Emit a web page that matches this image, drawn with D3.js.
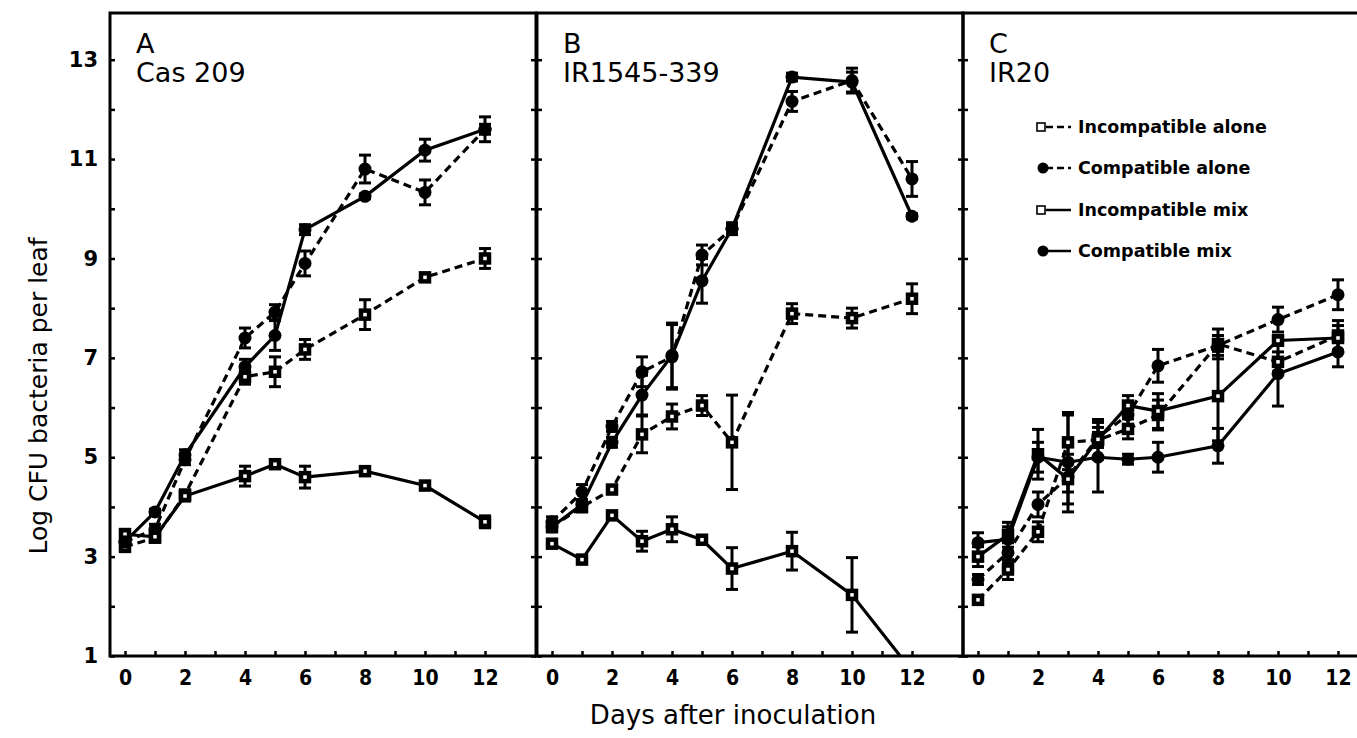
<!DOCTYPE html>
<html>
<head>
<meta charset="utf-8">
<script src="https://cdn.jsdelivr.net/npm/d3@7"></script>
<style>
  body { margin: 0; background: #fff; }
  svg { display: block; }
</style>
</head>
<body>
<div id="chart"></div>
<script>
// Bacterial growth in rice leaves (log CFU per leaf)
const days = [0, 1, 2, 3, 4, 5, 6, 8, 10, 12];
const xTickValues = [0, 1, 2, 3, 4, 5, 6, 7, 8, 9, 10, 11, 12];
const xTickLabels = [0, 2, 4, 6, 8, 10, 12];
const yTickValues = [1, 2, 3, 4, 5, 6, 7, 8, 9, 10, 11, 12, 13];
const yTickLabels = [1, 3, 5, 7, 9, 11, 13];
const seriesNames = ["Incompatible alone", "Compatible alone", "Incompatible mix", "Compatible mix"];
const panelLetters = ["A", "B", "C"];
const cultivars = ["Cas 209", "IR1545-339", "IR20"];

// Panel A - Cas 209 (no day 3 sample)
const casIncAlone     = [3.2, 3.38, 4.25, null, 6.62, 6.72, 7.17, 7.87, 8.62, 9.0];
const casIncAloneErr  = [0.1, 0, 0, null, 0.15, 0.3, 0.2, 0.3, 0, 0.2];
const casCompAlone    = [3.3, 3.55, 4.95, null, 7.4, 7.92, 8.9, 10.8, 10.33, 11.6];
const casCompAloneErr = [0.1, 0.1, 0.1, null, 0.2, 0.15, 0.25, 0.28, 0.25, 0.25];
const casIncMix       = [3.45, 3.4, 4.22, null, 4.62, 4.86, 4.6, 4.72, 4.43, 3.7];
const casIncMixErr    = [0.1, 0.1, 0.1, null, 0.2, 0.08, 0.22, 0.05, 0.05, 0.12];
const casCompMix      = [3.3, 3.9, 5.05, null, 6.82, 7.45, 9.58, 10.25, 11.18, 11.6];
const casCompMixErr   = [0.1, 0.05, 0.1, null, 0.15, 0.3, 0.1, 0.05, 0.22, 0.1];

// Panel B - IR1545-339
const irbIncAlone     = [3.6, 4.0, 4.35, 5.46, 5.82, 6.04, 5.3, 7.89, 7.8, 8.19];
const irbIncAloneErr  = [0.1, 0.1, 0.05, 0.37, 0.25, 0.2, 0.95, 0.2, 0.2, 0.3];
const irbCompAlone    = [3.7, 4.3, 5.62, 6.72, 7.02, 9.07, 9.6, 12.16, 12.58, 10.6];
const irbCompAloneErr = [0.1, 0.15, 0.1, 0.3, 0.65, 0.2, 0.12, 0.2, 0.25, 0.35];
const irbIncMix       = [3.26, 2.94, 3.83, 3.31, 3.55, 3.34, 2.76, 3.11, 2.23, 0.7];
const irbIncMixErr    = [0.05, 0.05, 0.05, 0.2, 0.25, 0.05, 0.42, 0.38, 0.75, 0];
const irbCompMix      = [3.6, 4.05, 5.3, 6.25, 7.05, 8.55, 9.6, 12.65, 12.55, 9.85];
const irbCompMixErr   = [0.1, 0.1, 0.1, 0.4, 0.65, 0.45, 0.1, 0.08, 0.2, 0.05];

// Panel C - IR20
const ir20IncAlone     = [2.13, 2.74, 3.5, 5.3, 5.35, 5.57, 5.85, 7.28, 6.92, 7.45];
const ir20IncAloneErr  = [0.05, 0.2, 0.2, 0.55, 0.15, 0.2, 0.3, 0.3, 0.2, 0.3];
const ir20CompAlone    = [2.54, 3.08, 4.05, 4.6, 5.4, 5.85, 6.84, 7.25, 7.77, 8.27];
const ir20CompAloneErr = [0.1, 0.2, 0.25, 0.3, 0.2, 0.2, 0.33, 0.2, 0.25, 0.3];
const ir20IncMix       = [3.0, 3.44, 5.06, 4.56, 5.36, 6.04, 5.93, 6.23, 7.35, 7.4];
const ir20IncMixErr    = [0.2, 0.25, 0.5, 0.5, 0.4, 0.2, 0.35, 0.9, 0.1, 0.25];
const ir20CompMix      = [3.28, 3.35, 5.0, 4.9, 5.0, 4.96, 5.0, 5.23, 6.68, 7.12];
const ir20CompMixErr   = [0.2, 0.25, 0.3, 1.0, 0.7, 0.1, 0.3, 0.35, 0.65, 0.3];

const panelMeans = [
  [casIncAlone, casCompAlone, casIncMix, casCompMix],
  [irbIncAlone, irbCompAlone, irbIncMix, irbCompMix],
  [ir20IncAlone, ir20CompAlone, ir20IncMix, ir20CompMix]
];
const panelErrs = [
  [casIncAloneErr, casCompAloneErr, casIncMixErr, casCompMixErr],
  [irbIncAloneErr, irbCompAloneErr, irbIncMixErr, irbCompMixErr],
  [ir20IncAloneErr, ir20CompAloneErr, ir20IncMixErr, ir20CompMixErr]
];

// styling per series: "alone" runs are dashed, incompatible strain is the square
const isDashed = [true, true, false, false];
const isSquare = [true, false, true, false];

const W = 1357, H = 738;
const TOP = 13, BOTTOM = 656;
const panelLeft = [110, 537, 963];
const panelW = 426;
const FONT = "'DejaVu Sans', Verdana, sans-serif";
const FONT_COND = "'DejaVu Sans Condensed', 'Liberation Sans Narrow', 'DejaVu Sans', sans-serif";

const svg = d3.select('#chart').append('svg')
  .attr('width', W)
  .attr('height', H)
  .attr('viewBox', [0, 0, W, H]);

const y = d3.scaleLinear().domain([1, 13.94]).range([BOTTOM, TOP]);

panelLetters.forEach((letter, p) => {
  const left = panelLeft[p];
  const x = d3.scaleLinear().domain([-0.5, 13.7]).range([left, left + panelW]);
  const g = svg.append('g');

  g.append('clipPath').attr('id', 'clip' + p)
    .append('rect')
    .attr('x', left).attr('y', TOP)
    .attr('width', panelW).attr('height', BOTTOM - TOP);

  // bottom ticks, pointing inward
  const xAxis = g.append('g')
    .attr('transform', `translate(0,${BOTTOM})`)
    .call(d3.axisBottom(x)
      .tickValues(xTickValues)
      .tickSize(-5)
      .tickPadding(14)
      .tickFormat(d => xTickLabels.includes(d) ? d : ''));
  xAxis.select('.domain').remove();
  xAxis.selectAll('line').attr('stroke-width', 2.5);
  xAxis.selectAll('text')
    .attr('font-family', FONT_COND)
    .attr('font-weight', 'bold')
    .attr('font-size', 21)
    .attr('fill', '#000');

  // left and right ticks, both inward
  const yLeft = g.append('g')
    .attr('transform', `translate(${left},0)`)
    .call(d3.axisLeft(y)
      .tickValues(yTickValues)
      .tickSize(-5)
      .tickPadding(12)
      .tickFormat(d => (p === 0 && yTickLabels.includes(d)) ? d : ''));
  yLeft.select('.domain').remove();
  yLeft.selectAll('line').attr('stroke-width', 2.5);
  yLeft.selectAll('text')
    .attr('font-family', FONT)
    .attr('font-weight', 'bold')
    .attr('font-size', 21)
    .attr('fill', '#000');

  const yRight = g.append('g')
    .attr('transform', `translate(${left + panelW},0)`)
    .call(d3.axisRight(y).tickValues(yTickValues).tickSize(-5).tickFormat(''));
  yRight.select('.domain').remove();
  yRight.selectAll('line').attr('stroke-width', 2.5);

  // frame
  g.append('rect')
    .attr('x', left).attr('y', TOP)
    .attr('width', panelW).attr('height', BOTTOM - TOP)
    .attr('fill', 'none')
    .attr('stroke', '#000')
    .attr('stroke-width', 3);

  // panel label + cultivar
  g.append('text')
    .attr('x', left + 26).attr('y', 53)
    .attr('font-family', FONT).attr('font-size', 27)
    .text(letter);
  g.append('text')
    .attr('x', left + 26).attr('y', 82)
    .attr('font-family', FONT).attr('font-size', 27)
    .text(cultivars[p]);

  const plot = g.append('g').attr('clip-path', `url(#clip${p})`);

  const line = d3.line()
    .defined(d => d.v != null)
    .x(d => x(d.day))
    .y(d => y(d.v));

  seriesNames.forEach((name, s) => {
    const pts = days.map((day, i) => ({ day, v: panelMeans[p][s][i], e: panelErrs[p][s][i] }))
      .filter(d => d.v != null);

    plot.append('path')
      .datum(pts)
      .attr('d', line)
      .attr('fill', 'none')
      .attr('stroke', '#000')
      .attr('stroke-width', 3.2)
      .attr('stroke-dasharray', isDashed[s] ? '8,5' : null);

    // error bars
    const eb = plot.append('g')
      .attr('stroke', '#000')
      .attr('stroke-width', 3);
    pts.filter(d => d.e > 0.04).forEach(d => {
      const cx = x(d.day), y0 = y(d.v - d.e), y1 = y(d.v + d.e);
      eb.append('line').attr('x1', cx).attr('x2', cx).attr('y1', y0).attr('y2', y1);
      eb.append('line').attr('x1', cx - 6).attr('x2', cx + 6).attr('y1', y0).attr('y2', y0);
      eb.append('line').attr('x1', cx - 6).attr('x2', cx + 6).attr('y1', y1).attr('y2', y1);
    });
  });

  // markers on top
  seriesNames.forEach((name, s) => {
    const pts = days.map((day, i) => ({ day, v: panelMeans[p][s][i] }))
      .filter(d => d.v != null);
    if (isSquare[s]) {
      plot.selectAll(null).data(pts).enter().append('rect')
        .attr('x', d => x(d.day) - 4)
        .attr('y', d => y(d.v) - 4)
        .attr('width', 8).attr('height', 8)
        .attr('fill', '#fff')
        .attr('stroke', '#000')
        .attr('stroke-width', 4.5);
    } else {
      plot.selectAll(null).data(pts).enter().append('circle')
        .attr('cx', d => x(d.day))
        .attr('cy', d => y(d.v))
        .attr('r', 6.5)
        .attr('fill', '#000');
    }
  });
});

// legend in panel C
const legendY = [127, 168, 210, 251];
const legend = svg.append('g');
seriesNames.forEach((name, s) => {
  const ly = legendY[s];
  if (isSquare[s]) {
    legend.append('rect')
      .attr('x', 1037).attr('y', ly - 4)
      .attr('width', 8).attr('height', 8)
      .attr('fill', '#fff').attr('stroke', '#000').attr('stroke-width', 1.6);
  } else {
    legend.append('circle')
      .attr('cx', 1043).attr('cy', ly)
      .attr('r', 5.5).attr('fill', '#000');
  }
  legend.append('line')
    .attr('x1', 1046).attr('x2', 1071)
    .attr('y1', ly).attr('y2', ly)
    .attr('stroke', '#000')
    .attr('stroke-width', 2.5)
    .attr('stroke-dasharray', isDashed[s] ? '7,4' : null);
  legend.append('text')
    .attr('x', 1078).attr('y', ly)
    .attr('dy', '0.36em')
    .attr('font-family', FONT)
    .attr('font-weight', 'bold')
    .attr('font-size', 17.5)
    .text(name);
});

// axis titles
svg.append('text')
  .attr('x', 733).attr('y', 724)
  .attr('text-anchor', 'middle')
  .attr('font-family', FONT)
  .attr('font-size', 26)
  .text('Days after inoculation');

svg.append('text')
  .attr('transform', 'translate(47,396) rotate(-90)')
  .attr('text-anchor', 'middle')
  .attr('font-family', FONT)
  .attr('font-size', 25)
  .text('Log CFU bacteria per leaf');
</script>
</body>
</html>
